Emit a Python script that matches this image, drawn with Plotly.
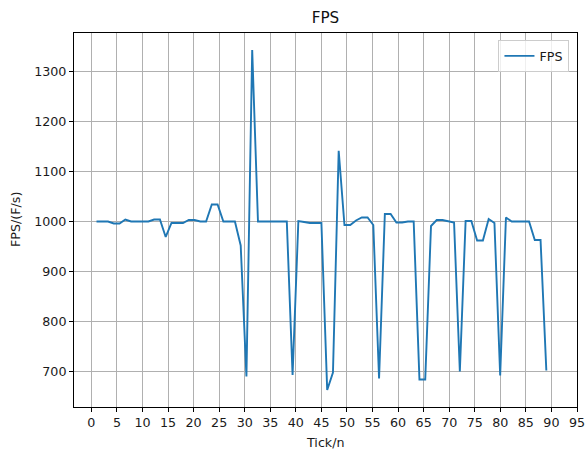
import plotly.graph_objects as go

# Tick positions (x): 79 samples from 1 to 89
ticks = [1.00, 2.13, 3.26, 4.38, 5.51, 6.64, 7.77, 8.90, 10.03, 11.15,
         12.28, 13.41, 14.54, 15.67, 16.79, 17.92, 19.05, 20.18, 21.31, 22.44,
         23.56, 24.69, 25.82, 26.95, 28.08, 29.21, 30.33, 31.46, 32.59, 33.72,
         34.85, 35.97, 37.10, 38.23, 39.36, 40.49, 41.62, 42.74, 43.87, 45.00,
         46.13, 47.26, 48.38, 49.51, 50.64, 51.77, 52.90, 54.03, 55.15, 56.28,
         57.41, 58.54, 59.67, 60.79, 61.92, 63.05, 64.18, 65.31, 66.44, 67.56,
         68.69, 69.82, 70.95, 72.08, 73.21, 74.33, 75.46, 76.59, 77.72, 78.85,
         79.97, 81.10, 82.23, 83.36, 84.49, 85.62, 86.74, 87.87, 89.00]

fps = [1000, 1000, 1000, 996, 996, 1004, 1000, 1000, 1000, 1000,
       1004, 1004, 969, 997, 997, 997, 1003, 1003, 1000, 1000,
       1034, 1034, 1000, 1000, 1000, 952, 689, 1344, 1000, 1000,
       1000, 1000, 1000, 1000, 692, 1001, 999, 997, 997, 997,
       662, 697, 1142, 993, 993, 1002, 1008, 1008, 993, 685,
       1015, 1015, 998, 998, 1000, 1000, 683, 683, 991, 1003,
       1003, 1000, 998, 699, 1001, 1001, 962, 962, 1005, 997,
       691, 1008, 1000, 1000, 1000, 1000, 963, 963, 701]

x_tick_vals = list(range(0, 100, 5))
y_tick_vals = [700, 800, 900, 1000, 1100, 1200, 1300]

FONT = "DejaVu Sans"
W, H = 585, 450
ML, MR, MT, MB = 74, 8, 33, 43
PW, PH = W - ML - MR, H - MT - MB

fig = go.Figure()
fig.add_trace(go.Scatter(
    x=ticks, y=fps, mode="lines", name="FPS",
    line=dict(color="#1f77b4", width=1.9),
))

axis_common = dict(
    showline=True, linecolor="black", linewidth=1, mirror=True,
    showgrid=True, gridcolor="#b0b0b0", gridwidth=0.9,
    ticks="outside", ticklen=4, tickwidth=1, tickcolor="black",
    tickfont=dict(family=FONT, size=12.7, color="#1a1a1a"),
    zeroline=False, automargin=False, ticklabeloverflow="allow",
)

fig.update_layout(
    width=W, height=H,
    margin=dict(l=ML, r=MR, t=MT, b=MB, autoexpand=False),
    paper_bgcolor="white", plot_bgcolor="white",
    title=dict(text="FPS", x=0.5, xref="paper", xanchor="center",
               y=1 - 17.5 / H, yref="container", yanchor="middle",
               font=dict(family=FONT, size=15.2, color="#111111")),
    xaxis=dict(range=[-3.4, 95], tickvals=x_tick_vals, **axis_common),
    yaxis=dict(range=[627.9, 1378.1], tickvals=y_tick_vals, **axis_common),
    showlegend=True,
    legend=dict(x=0.985, y=0.981, xanchor="right", yanchor="top",
                bgcolor="rgba(255,255,255,0.8)", bordercolor="#cccccc",
                borderwidth=1, itemwidth=30,
                font=dict(family=FONT, size=12.7, color="#1a1a1a")),
    annotations=[
        dict(text="Tick/n", xref="paper", yref="paper", x=0.5,
             y=-(442 - (MT + PH)) / PH, xanchor="center", yanchor="middle",
             showarrow=False,
             font=dict(family=FONT, size=12.7, color="#1a1a1a")),
        dict(text="FPS/(F/s)", xref="paper", yref="paper",
             x=-(ML - 15) / PW, y=0.5, xanchor="center", yanchor="middle",
             textangle=-90, showarrow=False,
             font=dict(family=FONT, size=12.7, color="#1a1a1a")),
    ],
)

fig.write_html(
    "out.html",
    config={"displayModeBar": False},
    post_script="document.body.style.margin='0';document.body.style.overflow='hidden';",
)
